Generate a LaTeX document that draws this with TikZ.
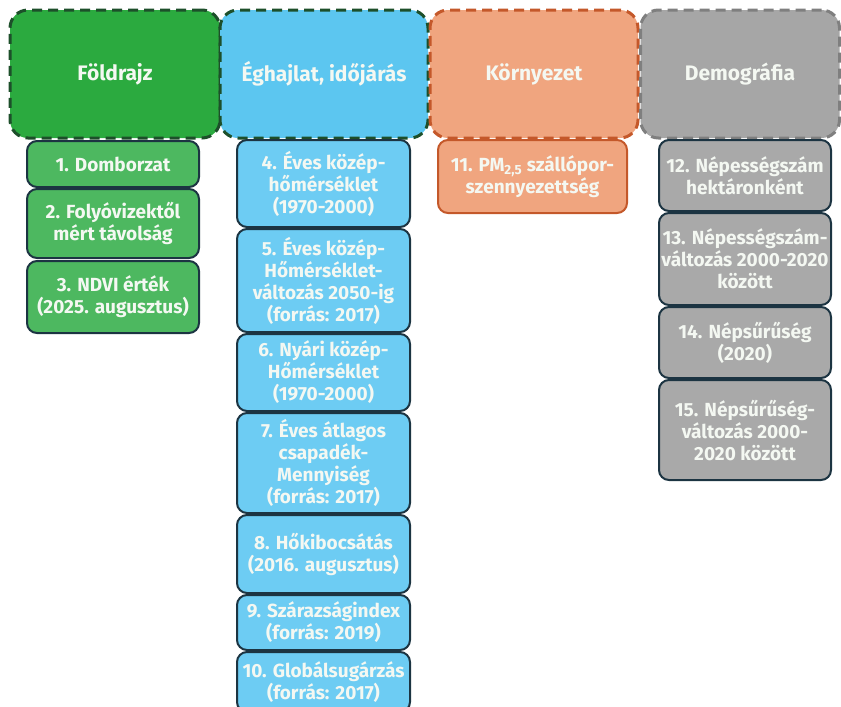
\documentclass[tikz,border=0pt]{standalone}
\usepackage{fontspec}
\setmainfont{Fira Sans}
\definecolor{geoF}{HTML}{2BAA3F}
\definecolor{geoB}{HTML}{1D4F2A}
\definecolor{geoC}{HTML}{4DB860}
\definecolor{cliF}{HTML}{5CC6F0}
\definecolor{cliC}{HTML}{6DCCF3}
\definecolor{envF}{HTML}{F0A57F}
\definecolor{envB}{HTML}{C4582A}
\definecolor{demF}{HTML}{A6A6A6}
\definecolor{demB}{HTML}{7F7F7F}
\definecolor{demC}{HTML}{A9A9A9}
\definecolor{chB}{HTML}{1C3442}
\definecolor{txt}{HTML}{F4F8F2}
\tikzset{
  hdr/.style={rounded corners=18pt, line width=3pt, dash pattern=on 10pt off 6pt,
    inner sep=0pt, text=txt, font=\bfseries\fontsize{21}{24}\selectfont, align=center},
  chl/.style={rounded corners=10pt, line width=2pt, inner sep=0pt,
    text=txt, font=\bfseries\fontsize{19}{22}\selectfont, align=center},
}
\begin{document}
\begin{tikzpicture}[x=1pt,y=-1pt]
\useasboundingbox (0,0) rectangle (841,707);
% headers
\node[hdr, fill=geoF, draw=geoB, minimum width=210pt, minimum height=128pt] (geo) at (115,74) {Földrajz};
\node[hdr, fill=cliF, draw=geoB, minimum width=208pt, minimum height=128pt] (cli) at (324,74) {Éghajlat, időjárás};
\node[hdr, fill=envF, draw=envB, minimum width=208pt, minimum height=128pt] (env) at (534,74) {Környezet};
\node[hdr, fill=demF, draw=demB, minimum width=199pt, minimum height=128pt] (dem) at (740,74) {Demográfia};
% geography
\node[chl, fill=geoC, draw=chB, minimum width=172pt, minimum height=46pt] (g1) at (113,164) {1. Domborzat};
\node[chl, fill=geoC, draw=chB, minimum width=172pt, minimum height=69pt] (g2) at (113,223.5) {2. Folyóvizektől\\mért távolság};
\node[chl, fill=geoC, draw=chB, minimum width=172pt, minimum height=72pt] (g3) at (113,297) {3. NDVI érték\\(2025. augusztus)};
% climate
\node[chl, fill=cliC, draw=chB, minimum width=173pt, minimum height=87pt] (c4) at (323.5,183.5) {4. Éves közép-\\hőmérséklet\\(1970-2000)};
\node[chl, fill=cliC, draw=chB, minimum width=173pt, minimum height=103pt] (c5) at (323.5,280.5) {5. Éves közép-\\Hőmérséklet-\\változás 2050-ig\\(forrás: 2017)};
\node[chl, fill=cliC, draw=chB, minimum width=173pt, minimum height=77pt] (c6) at (323.5,372.5) {6. Nyári közép-\\Hőmérséklet\\(1970-2000)};
\node[chl, fill=cliC, draw=chB, minimum width=173pt, minimum height=100pt] (c7) at (323.5,463) {7. Éves átlagos\\csapadék-\\Mennyiség\\(forrás: 2017)};
\node[chl, fill=cliC, draw=chB, minimum width=173pt, minimum height=78pt] (c8) at (323.5,554) {8. Hőkibocsátás\\(2016. augusztus)};
\node[chl, fill=cliC, draw=chB, minimum width=173pt, minimum height=55pt] (c9) at (323.5,622.5) {9. Szárazságindex\\(forrás: 2019)};
\node[chl, fill=cliC, draw=chB, minimum width=173pt, minimum height=60pt] (c10) at (323.5,682) {10. Globálsugárzás\\(forrás: 2017)};
% environment
\node[chl, fill=envF, draw=envB, minimum width=189pt, minimum height=73pt] (e11) at (532.5,176.5) {11. PM\textsubscript{2,5} szállópor-\\szennyezettség};
% demography
\node[chl, fill=demC, draw=chB, minimum width=172pt, minimum height=71pt] (d12) at (745,175.5) {12. Népességszám\\hektáronként};
\node[chl, fill=demC, draw=chB, minimum width=172pt, minimum height=92pt] (d13) at (745,259) {13. Népességszám-\\változás 2000-2020\\között};
\node[chl, fill=demC, draw=chB, minimum width=172pt, minimum height=71pt] (d14) at (745,342.5) {14. Népsűrűség\\(2020)};
\node[chl, fill=demC, draw=chB, minimum width=172pt, minimum height=100pt] (d15) at (745,430) {15. Népsűrűség-\\változás 2000-\\2020 között};
\end{tikzpicture}
\end{document}
